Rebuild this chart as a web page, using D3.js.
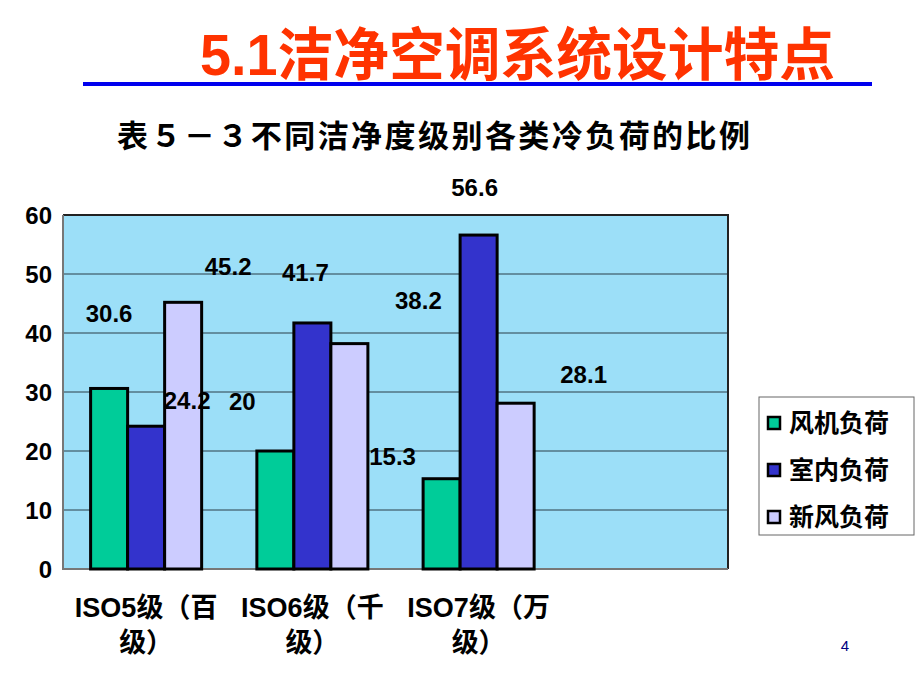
<!DOCTYPE html>
<meta charset="utf-8">
<style>
  body { margin: 0; background: #fff; }
  text { font-family: "Liberation Sans", "Noto Sans CJK SC", sans-serif; }
  .bold { font-weight: bold; }
  .grid line { stroke: #2b3f48; stroke-width: 1; }
  .bar { stroke: #000; stroke-width: 3; }
</style>
<body>
<script src="https://d3js.org/d3.v7.min.js"></script>
<script>
  // chart data
  var categories = ["ISO5级（百级）", "ISO6级（千级）", "ISO7级（万级）", ""];
  var series = ["风机负荷", "室内负荷", "新风负荷"];
  var fanLoad = [30.6, 20, 15.3];
  var roomLoad = [24.2, 41.7, 56.6];
  var freshLoad = [45.2, 38.2, 28.1];
  var yTicks = [0, 10, 20, 30, 40, 50, 60];

  // category labels are wrapped in two lines like the original
  var catLines = [["ISO5级（百", "级）"], ["ISO6级（千", "级）"], ["ISO7级（万", "级）"], []];

  var colors = ["#00cc99", "#3333cc", "#ccccff"];

  // the data labels in the slide sit off their bars; nudges in px from bar top centre
  var labelNudge = [
    [[0, -75], [-33, -50], [-49, -22]],
    [[41, -26], [-7, -50], [-4, -48]],
    [[45, -36], [69, -43], [68, -29]]
  ];

  var width = 920, height = 690;
  var plot = { left: 63, top: 215, right: 728, bottom: 569 };

  var svg = d3.select("body").append("svg")
    .attr("width", width)
    .attr("height", height);

  // title
  svg.append("text")
    .attr("class", "bold")
    .attr("x", 200).attr("y", 75)
    .attr("textLength", 635).attr("lengthAdjust", "spacingAndGlyphs")
    .style("font-size", "57px")
    .style("fill", "#ff3300")
    .text("5.1洁净空调系统设计特点");

  svg.append("rect")
    .attr("x", 83).attr("y", 82)
    .attr("width", 789).attr("height", 4)
    .style("fill", "#0000ee");

  svg.append("text")
    .attr("class", "bold")
    .attr("x", 117).attr("y", 147)
    .attr("textLength", 633).attr("lengthAdjust", "spacing")
    .style("font-size", "31px")
    .style("fill", "#000")
    .text("表５－３不同洁净度级别各类冷负荷的比例");

  // scales
  var y = d3.scaleLinear().domain([0, 60]).range([plot.bottom, plot.top]);
  var x0 = d3.scaleBand().domain(d3.range(categories.length))
    .range([plot.left, plot.right]).padding(0);
  var x1 = d3.scaleBand().domain(series).range([0, x0.bandwidth()])
    .paddingInner(0).paddingOuter(0.746);

  // plot background
  svg.append("rect")
    .attr("x", plot.left).attr("y", plot.top)
    .attr("width", plot.right - plot.left).attr("height", plot.bottom - plot.top)
    .style("fill", "#9cdff8");

  // gridlines
  svg.append("g").attr("class", "grid")
    .selectAll("line")
    .data(yTicks.filter(function (d) { return d > 0 && d < 60; }))
    .enter().append("line")
    .attr("x1", plot.left).attr("x2", plot.right)
    .attr("y1", function (d) { return y(d); })
    .attr("y2", function (d) { return y(d); });

  // frame
  svg.append("path")
    .attr("d", "M" + plot.left + "," + plot.top + "H" + plot.right + "V" + plot.bottom)
    .style("fill", "none").style("stroke", "#222").style("stroke-width", 2);
  svg.append("path")
    .attr("d", "M" + plot.left + "," + plot.top + "V" + plot.bottom + "H" + plot.right)
    .style("fill", "none").style("stroke", "#777").style("stroke-width", 2);

  // bars
  var values = [fanLoad, roomLoad, freshLoad];
  var rows = [];
  values.forEach(function (vals, si) {
    vals.forEach(function (v, ci) {
      rows.push({ s: si, c: ci, v: v });
    });
  });

  svg.append("g").selectAll("rect")
    .data(rows)
    .enter().append("rect")
    .attr("class", "bar")
    .attr("x", function (d) { return x0(d.c) + x1(series[d.s]); })
    .attr("y", function (d) { return y(d.v); })
    .attr("width", x1.bandwidth())
    .attr("height", function (d) { return y(0) - y(d.v); })
    .style("fill", function (d) { return colors[d.s]; });

  // value labels
  svg.append("g").selectAll("text")
    .data(rows)
    .enter().append("text")
    .attr("class", "bold")
    .attr("text-anchor", "middle")
    .attr("dominant-baseline", "central")
    .attr("x", function (d) {
      return x0(d.c) + x1(series[d.s]) + x1.bandwidth() / 2 + labelNudge[d.s][d.c][0];
    })
    .attr("y", function (d) { return y(d.v) + labelNudge[d.s][d.c][1]; })
    .style("font-size", "24px")
    .text(function (d) { return d.v; });

  // y axis labels
  svg.append("g").selectAll("text")
    .data(yTicks)
    .enter().append("text")
    .attr("class", "bold")
    .attr("text-anchor", "end")
    .attr("dominant-baseline", "central")
    .attr("x", plot.left - 11)
    .attr("y", function (d) { return y(d); })
    .style("font-size", "24px")
    .text(function (d) { return d; });

  // category labels
  var cat = svg.append("g").selectAll("text")
    .data(catLines)
    .enter().append("text")
    .attr("class", "bold")
    .attr("text-anchor", "middle")
    .style("font-size", "27px");
  cat.selectAll("tspan")
    .data(function (d, i) { return d.map(function (t) { return { t: t, i: i }; }); })
    .enter().append("tspan")
    .attr("x", function (d) { return x0(d.i) + x0.bandwidth() / 2; })
    .attr("y", function (d, j) { return 617 + j * 35; })
    .text(function (d) { return d.t; });

  // legend
  var legend = svg.append("g").attr("transform", "translate(759,397)");
  legend.append("rect")
    .attr("width", 155).attr("height", 138)
    .style("fill", "#fff").style("stroke", "#666").style("stroke-width", 1);
  var item = legend.selectAll(".item")
    .data(series)
    .enter().append("g")
    .attr("class", "item")
    .attr("transform", function (d, i) { return "translate(0," + (26 + i * 47) + ")"; });
  item.append("rect")
    .attr("x", 9).attr("y", -6)
    .attr("width", 12).attr("height", 12)
    .style("fill", function (d, i) { return colors[i]; })
    .style("stroke", "#000").style("stroke-width", 2.5);
  item.append("text")
    .attr("class", "bold")
    .attr("x", 30)
    .attr("dominant-baseline", "central")
    .style("font-size", "25px")
    .text(function (d) { return d; });

  // page number
  svg.append("text")
    .attr("x", 845).attr("y", 651)
    .attr("text-anchor", "middle")
    .style("font-size", "15px")
    .style("fill", "#000080")
    .text("4");
</script>
</body>
